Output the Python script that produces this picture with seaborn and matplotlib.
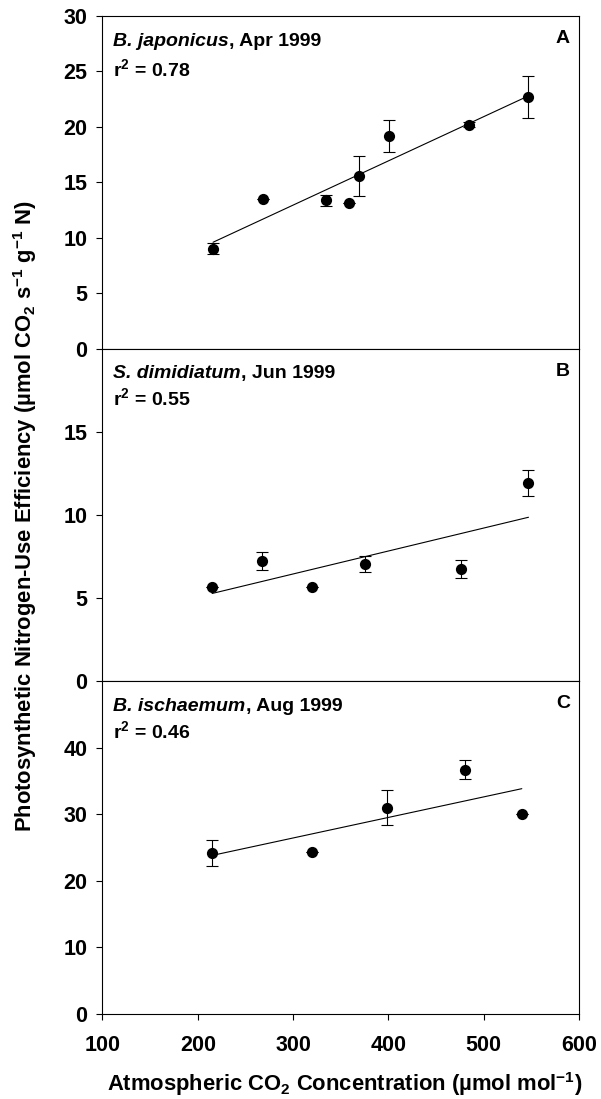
import numpy as np
import pandas as pd
import matplotlib
matplotlib.use("Agg")
import matplotlib.pyplot as plt
import seaborn as sns

# ---- data ----
co2_a = [216, 268, 335, 359, 369, 401, 485, 547]
nue_a = [9.0, 13.5, 13.4, 13.1, 15.6, 19.2, 20.2, 22.7]
err_a = [0.5, 0.0, 0.5, 0.0, 1.8, 1.45, 0.2, 1.9]

co2_b = [215, 267, 320, 375, 476, 547]
nue_b = [5.65, 7.25, 5.65, 7.05, 6.75, 11.9]
err_b = [0.0, 0.53, 0.0, 0.5, 0.52, 0.78]

co2_c = [215, 320, 399, 480, 540]
nue_c = [24.2, 24.3, 31.0, 36.7, 30.1]
err_c = [1.9, 0.0, 2.6, 1.45, 0.0]

species = ["B. japonicus", "S. dimidiatum", "B. ischaemum"]
dates = [", Apr 1999", ", Jun 1999", ", Aug 1999"]
r2 = ["0.78", "0.55", "0.46"]
letters = ["A", "B", "C"]
ylims = [30, 20, 50]
yticks = [[0, 5, 10, 15, 20, 25, 30], [0, 5, 10, 15], [0, 10, 20, 30, 40]]
xticks = [100, 200, 300, 400, 500, 600]

sns.set_theme(style="ticks")
plt.rcParams["font.family"] = ["Liberation Sans", "DejaVu Sans"]
plt.rcParams["font.weight"] = "bold"
plt.rcParams["text.color"] = "black"
plt.rcParams["axes.labelcolor"] = "black"
plt.rcParams["xtick.color"] = "black"
plt.rcParams["ytick.color"] = "black"
plt.rcParams["mathtext.fontset"] = "custom"
plt.rcParams["mathtext.rm"] = "Liberation Sans:bold"
plt.rcParams["mathtext.bf"] = "Liberation Sans:bold"
plt.rcParams["mathtext.it"] = "Liberation Sans:bold"
plt.rcParams["mathtext.default"] = "rm"

fig = plt.figure(figsize=(6.01, 10.99), dpi=100)
left, right = 102.5 / 601, 579 / 601
top_px, bot_px = 16, 1014
h = (bot_px - top_px) / 3 / 1099
axes = []
for i in range(3):
    y0 = 1 - (top_px / 1099) - (i + 1) * h
    axes.append(fig.add_axes([left, y0, right - left, h]))

datasets = [(co2_a, nue_a, err_a), (co2_b, nue_b, err_b), (co2_c, nue_c, err_c)]
fs_tick = 15.5
fs_ann = 14
fs_lab = 15.8
for i, (ax, (x, y, e)) in enumerate(zip(axes, datasets)):
    df = pd.DataFrame({"co2": x, "nue": y, "err": e})
    ax.errorbar(df["co2"], df["nue"], yerr=df["err"], fmt="none", ecolor="black",
                elinewidth=0.8, capsize=4, capthick=0.8, zorder=2)
    sns.regplot(data=df, x="co2", y="nue", scatter=False, ci=None, ax=ax,
                line_kws=dict(color="black", lw=0.8, zorder=3))
    sns.scatterplot(data=df, x="co2", y="nue", ax=ax, color="black", s=65,
                    edgecolor="black", linewidth=0, zorder=4)
    ax.set_xlim(100, 600)
    ax.set_ylim(0, ylims[i])
    ax.set_yticks(yticks[i])
    ax.set_xticks(xticks)
    ax.set_xlabel("")
    ax.set_ylabel("")
    for sp in ax.spines.values():
        sp.set_visible(True)
        sp.set_linewidth(0.8)
        sp.set_color("black")
    ax.tick_params(axis="y", direction="out", length=4, width=0.8, pad=7,
                   labelsize=fs_tick, left=True, right=False, colors="black")
    if i < 2:
        ax.tick_params(axis="x", bottom=False, labelbottom=False)
    else:
        ax.tick_params(axis="x", direction="out", length=4, width=0.8, pad=11,
                       labelsize=fs_tick, colors="black")
    for lab in ax.get_xticklabels() + ax.get_yticklabels():
        lab.set_fontweight("bold")

    off1 = [-30, -29, -30][i]
    off2 = [-60, -56, -57][i]
    t1 = ax.annotate(species[i], xy=(0, 1), xycoords="axes fraction",
                     xytext=(11, off1), textcoords="offset pixels",
                     fontsize=fs_ann, fontweight="bold", fontstyle="italic",
                     ha="left", va="baseline", color="black")
    ax.annotate(dates[i], xy=(1, 0), xycoords=t1, xytext=(0, 0),
                textcoords="offset pixels", fontsize=fs_ann, fontweight="bold",
                ha="left", va="bottom", color="black")
    ax.annotate("r$^2$ = " + r2[i], xy=(0, 1), xycoords="axes fraction",
                xytext=(11, off2), textcoords="offset pixels",
                fontsize=fs_ann, fontweight="bold", ha="left", va="baseline",
                color="black")
    ax.annotate(letters[i], xy=(1, 1), xycoords="axes fraction",
                xytext=(-9, -27), textcoords="offset pixels",
                fontsize=fs_ann, fontweight="bold", ha="right", va="baseline",
                color="black")

fig.text(25 / 601, 1 - 516 / 1099,
         "Photosynthetic Nitrogen-Use Efficiency (µmol CO$_2$ s$^{-1}$ g$^{-1}$ N)",
         rotation=90, ha="center", va="center", fontsize=fs_lab, fontweight="bold",
         color="black")
fig.text(345 / 601, 1 - 1091 / 1099,
         "Atmospheric CO$_2$ Concentration (µmol mol$^{-1}$)",
         ha="center", va="baseline", fontsize=fs_lab, fontweight="bold",
         color="black")

fig.savefig("out.png", dpi=100)
